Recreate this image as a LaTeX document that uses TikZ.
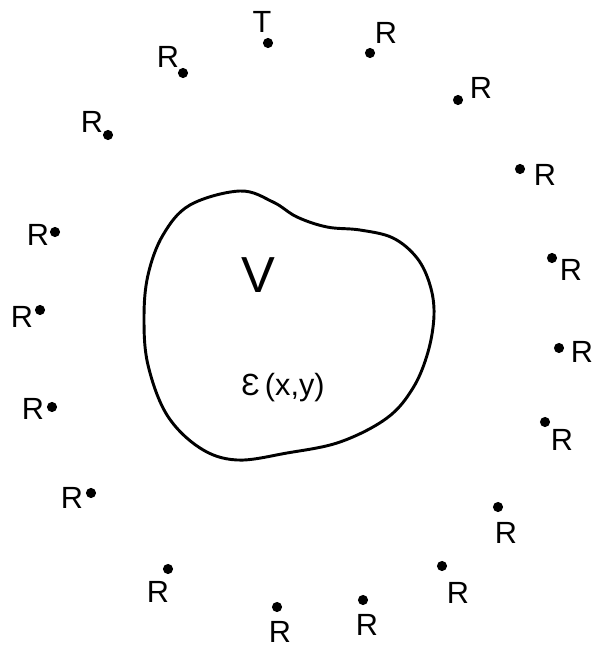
\documentclass[tikz,border=0pt]{standalone}
\usepackage{fontspec}
\setmainfont{Liberation Sans}
\usepackage{tikz}
\usetikzlibrary{positioning}

\begin{document}
\begin{tikzpicture}[
  x=0.75pt, y=-0.75pt,
  dot/.style={circle,fill=black,inner sep=0pt,minimum size=7.6pt},
  lbl/.style={inner sep=0pt,font=\fontsize{23}{27}\selectfont},
  big/.style={inner sep=0pt,font=\fontsize{38}{44}\selectfont},
  field/.style={inner sep=0pt,font=\fontsize{23}{28}\selectfont},
  outline/.style={draw=black,line width=2.2pt},
]
\useasboundingbox (0,0) rectangle (592,649);

% the region
\draw[outline] plot[smooth cycle,tension=0.6] coordinates {
  (240,191) (273,202) (297,217) (327,227) (360,230) (393,238) (417,258)
  (430,285) (434,315) (428,352) (413,388) (387,418) (340,442) (287,453)
  (237,460) (200,448) (167,415) (148,365) (144,318) (148,275) (163,235)
  (190,205)};
\node[big] (vol) at (258,275) {V};
\node[field] (eps) at (283,388) {Ɛ\,(x,y)};

% transmitter
\node[dot] (t) at (268,43) {};
\node[lbl] (lt) at (262,22) {T};

% receivers
\node[dot] (r1) at (183,73) {};
\node[dot] (r2) at (370,53) {};
\node[dot] (r3) at (458,100) {};
\node[dot] (r4) at (108,135) {};
\node[dot] (r5) at (520,169) {};
\node[dot] (r6) at (55,232) {};
\node[dot] (r7) at (552,258) {};
\node[dot] (r8) at (40,310) {};
\node[dot] (r9) at (559,348) {};
\node[dot] (r10) at (52,407) {};
\node[dot] (r11) at (545,422) {};
\node[dot] (r12) at (91,493) {};
\node[dot] (r13) at (498,507) {};
\node[dot] (r14) at (168,569) {};
\node[dot] (r15) at (442,566) {};
\node[dot] (r16) at (277,607) {};
\node[dot] (r17) at (363,600) {};

\node[lbl] (lr1) at (168,57) {R};
\node[lbl] (lr2) at (386,33) {R};
\node[lbl] (lr3) at (481,88) {R};
\node[lbl] (lr4) at (92,122) {R};
\node[lbl] (lr5) at (545,175) {R};
\node[lbl] (lr6) at (38,235) {R};
\node[lbl] (lr7) at (571,270) {R};
\node[lbl] (lr8) at (22,317) {R};
\node[lbl] (lr9) at (582,352) {R};
\node[lbl] (lr10) at (33,409) {R};
\node[lbl] (lr11) at (562,440) {R};
\node[lbl] (lr12) at (72,498) {R};
\node[lbl] (lr13) at (506,533) {R};
\node[lbl] (lr14) at (158,592) {R};
\node[lbl] (lr15) at (458,593) {R};
\node[lbl] (lr16) at (280,632) {R};
\node[lbl] (lr17) at (367,625) {R};
\end{tikzpicture}
\end{document}
